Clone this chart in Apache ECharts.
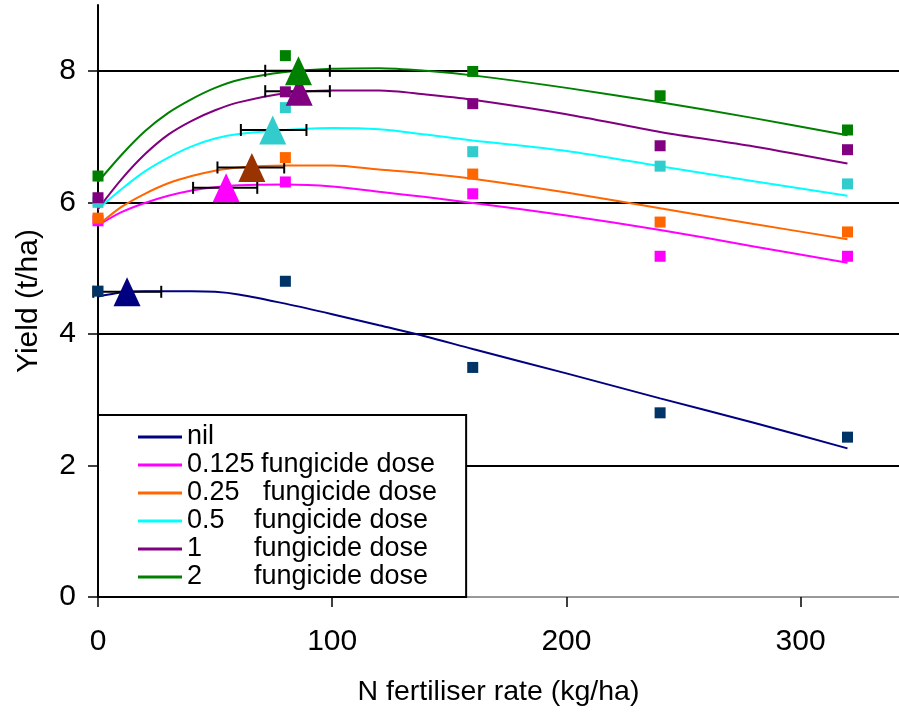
<!DOCTYPE html>
<html><head><meta charset="utf-8">
<script src="https://cdn.jsdelivr.net/npm/echarts@6/dist/echarts.min.js"></script>
<style>html,body{margin:0;padding:0;background:#fff}#c{width:899px;height:714px}</style>
</head><body><div id="c"></div>
<script>
// ---- data ----
const seriesNames = ['nil', '0.125 fungicide dose', '0.25 fungicide dose', '0.5 fungicide dose', '1 fungicide dose', '2 fungicide dose'];
const doseLabels = ['nil', '0.125', '0.25', '0.5', '1', '2'];

// observed yields (squares)
const nRates = [0, 80, 160, 240, 320];
const obsNil  = [4.65, 4.80, 3.49, 2.80, 2.43];
const obs0125 = [5.72, 6.31, 6.13, 5.18, 5.18];
const obs025  = [5.76, 6.68, 6.43, 5.70, 5.55];
const obs05   = [6.00, 7.44, 6.77, 6.55, 6.28];
const obs1    = [6.07, 7.68, 7.50, 6.86, 6.80];
const obs2    = [6.40, 8.23, 7.99, 7.62, 7.10];

// fitted response curves
const curveN    = [0, 10, 20, 30, 40, 50, 60, 80, 100, 120, 140, 160, 200, 240, 280, 320];
const fitNil  = [4.57, 4.63, 4.65, 4.65, 4.65, 4.64, 4.60, 4.46, 4.30, 4.13, 3.96, 3.77, 3.40, 3.02, 2.65, 2.26];
const fit0125 = [5.65, 5.85, 5.99, 6.10, 6.18, 6.23, 6.26, 6.27, 6.24, 6.16, 6.08, 5.99, 5.80, 5.58, 5.33, 5.08];
const fit025  = [5.65, 5.93, 6.13, 6.29, 6.40, 6.48, 6.53, 6.56, 6.56, 6.50, 6.44, 6.36, 6.15, 5.91, 5.67, 5.44];
const fit05   = [5.90, 6.20, 6.47, 6.68, 6.85, 6.97, 7.04, 7.10, 7.13, 7.11, 7.03, 6.94, 6.78, 6.55, 6.32, 6.10];
const fit1    = [5.90, 6.35, 6.73, 7.03, 7.24, 7.40, 7.52, 7.66, 7.70, 7.70, 7.64, 7.56, 7.34, 7.07, 6.85, 6.59];
const fit2    = [6.31, 6.72, 7.08, 7.36, 7.57, 7.74, 7.86, 7.98, 8.03, 8.04, 8.00, 7.93, 7.74, 7.52, 7.28, 7.02];

// optimum N (triangles) with horizontal error bars
const optN   = [12.4, 54.7, 65.7, 74.6, 85.9, 85.6];
const optY   = [4.64, 6.22, 6.53, 7.10, 7.69, 8.00];
const optLo  = [-2.0, 40.6, 51.0, 61.0, 71.4, 71.4];
const optHi  = [27.0, 68.0, 79.5, 89.0, 99.0, 99.0];

const xTicks = [0, 100, 200, 300];
const yTicks = [0, 2, 4, 6, 8];

// ---- styles ----
const lineColors   = ['#000080', '#FF00FF', '#FF6600', '#00FFFF', '#800080', '#008000'];
const squareColors = ['#003366', '#FF00FF', '#FF6600', '#33CCCC', '#800080', '#008000'];
const triColors    = ['#000080', '#FF00FF', '#993300', '#33CCCC', '#800080', '#008000'];
const FONT = '"Liberation Sans", Arial, sans-serif';

const obsAll = [obsNil, obs0125, obs025, obs05, obs1, obs2];
const fitAll = [fitNil, fit0125, fit025, fit05, fit1, fit2];

const series = [];
fitAll.forEach((arr, i) => {
  series.push({
    name: seriesNames[i], type: 'line', smooth: 0.3, showSymbol: false, symbol: 'none',
    data: curveN.map((n, k) => [n, arr[k]]),
    color: lineColors[i], lineStyle: { color: lineColors[i], width: 2 }, z: 2, silent: true
  });
});
series.push({
  name: 'errbars', type: 'custom', z: 3, silent: true,
  data: optN.map((n, i) => [optLo[i], optHi[i], optY[i]]),
  encode: { x: [0, 1], y: 2 },
  renderItem: function (params, api) {
    const y = api.value(2);
    const p1 = api.coord([api.value(0), y]);
    const p2 = api.coord([api.value(1), y]);
    const h = 6, st = { stroke: '#000', lineWidth: 2 };
    return { type: 'group', children: [
      { type: 'line', shape: { x1: p1[0], y1: p1[1], x2: p2[0], y2: p2[1] }, style: st },
      { type: 'line', shape: { x1: p1[0], y1: p1[1] - h, x2: p1[0], y2: p1[1] + h }, style: st },
      { type: 'line', shape: { x1: p2[0], y1: p2[1] - h, x2: p2[0], y2: p2[1] + h }, style: st }
    ]};
  }
});
obsAll.forEach((arr, i) => {
  series.push({
    name: 'obs ' + doseLabels[i], type: 'scatter', symbol: 'rect', symbolSize: 11,
    data: nRates.map((n, k) => [n, arr[k]]),
    itemStyle: { color: squareColors[i], opacity: 1 }, z: 4, silent: true
  });
});
series.push({
  name: 'optimum', type: 'scatter', symbol: 'triangle', symbolSize: [27, 29], z: 5, silent: true,
  itemStyle: { opacity: 1 },
  data: optN.map((n, i) => ({ value: [n, optY[i]], itemStyle: { color: triColors[i], opacity: 1 } }))
});

const chart = echarts.init(document.getElementById('c'), null, { renderer: 'canvas' });
chart.setOption({
  animation: false,
  backgroundColor: '#fff',
  textStyle: { fontFamily: FONT },
  grid: { left: 98, right: 0, top: 5, bottom: 117, containLabel: false },
  xAxis: [{
    type: 'value', min: 0, max: 342, interval: 100,
    name: 'N fertiliser rate (kg/ha)', nameLocation: 'middle', nameGap: 81,
    nameTextStyle: { fontSize: 28.5, color: '#000', fontFamily: FONT },
    axisLine: { show: true, onZero: false, lineStyle: { color: '#000', width: 2 } },
    axisTick: { show: true, inside: false, length: 10, lineStyle: { color: '#000', width: 1.5 }, customValues: xTicks },
    axisLabel: { fontSize: 30, color: '#000', margin: 30, fontFamily: FONT, customValues: xTicks },
    splitLine: { show: false }
  }, {
    type: 'value', min: 0, max: 342, position: 'top',
    axisLine: { show: true, lineStyle: { color: '#999', width: 2 } },
    axisTick: { show: false }, axisLabel: { show: false }, splitLine: { show: false }
  }],
  yAxis: {
    type: 'value', min: 0, max: 9, interval: 2,
    name: 'Yield (t/ha)', nameLocation: 'middle', nameGap: 54, nameRotate: 90,
    nameTextStyle: { fontSize: 30, color: '#000', fontFamily: FONT },
    axisLine: { show: true, onZero: false, lineStyle: { color: '#000', width: 2 } },
    axisTick: { show: true, inside: false, length: 10, lineStyle: { color: '#000', width: 1.5 }, customValues: yTicks },
    axisLabel: { fontSize: 30, color: '#000', margin: 22, fontFamily: FONT, customValues: yTicks },
    splitLine: { show: true, lineStyle: { color: '#000', width: 2 } }
  },
  legend: {
    data: seriesNames, orient: 'vertical', left: 98, top: 415, z: 10,
    padding: [8, 29, 6, 40], itemGap: 0, itemWidth: 44, itemHeight: 3, icon: 'rect',
    backgroundColor: '#fff', borderColor: '#000', borderWidth: 2, borderRadius: 0,
    selectedMode: false,
    formatter: function (name) {
      const i = seriesNames.indexOf(name);
      if (i === 0) return '{a|nil}';
      const key = i === 1 ? 'w1' : (i === 2 ? 'w2' : 'w3');
      return '{' + key + '|' + doseLabels[i] + '}{b|fungicide dose}';
    },
    textStyle: {
      fontSize: 27, lineHeight: 28, color: '#000', fontFamily: FONT, padding: [0, 0, 0, 0],
      rich: {
        a: { fontSize: 27, lineHeight: 28, fontFamily: FONT, color: '#000' },
        w1: { fontSize: 27, lineHeight: 28, width: 74, fontFamily: FONT, color: '#000' },
        w2: { fontSize: 27, lineHeight: 28, width: 76, fontFamily: FONT, color: '#000' },
        w3: { fontSize: 27, lineHeight: 28, width: 67, fontFamily: FONT, color: '#000' },
        b: { fontSize: 27, lineHeight: 28, fontFamily: FONT, color: '#000' }
      }
    }
  },
  series: series
});
</script></body></html>
